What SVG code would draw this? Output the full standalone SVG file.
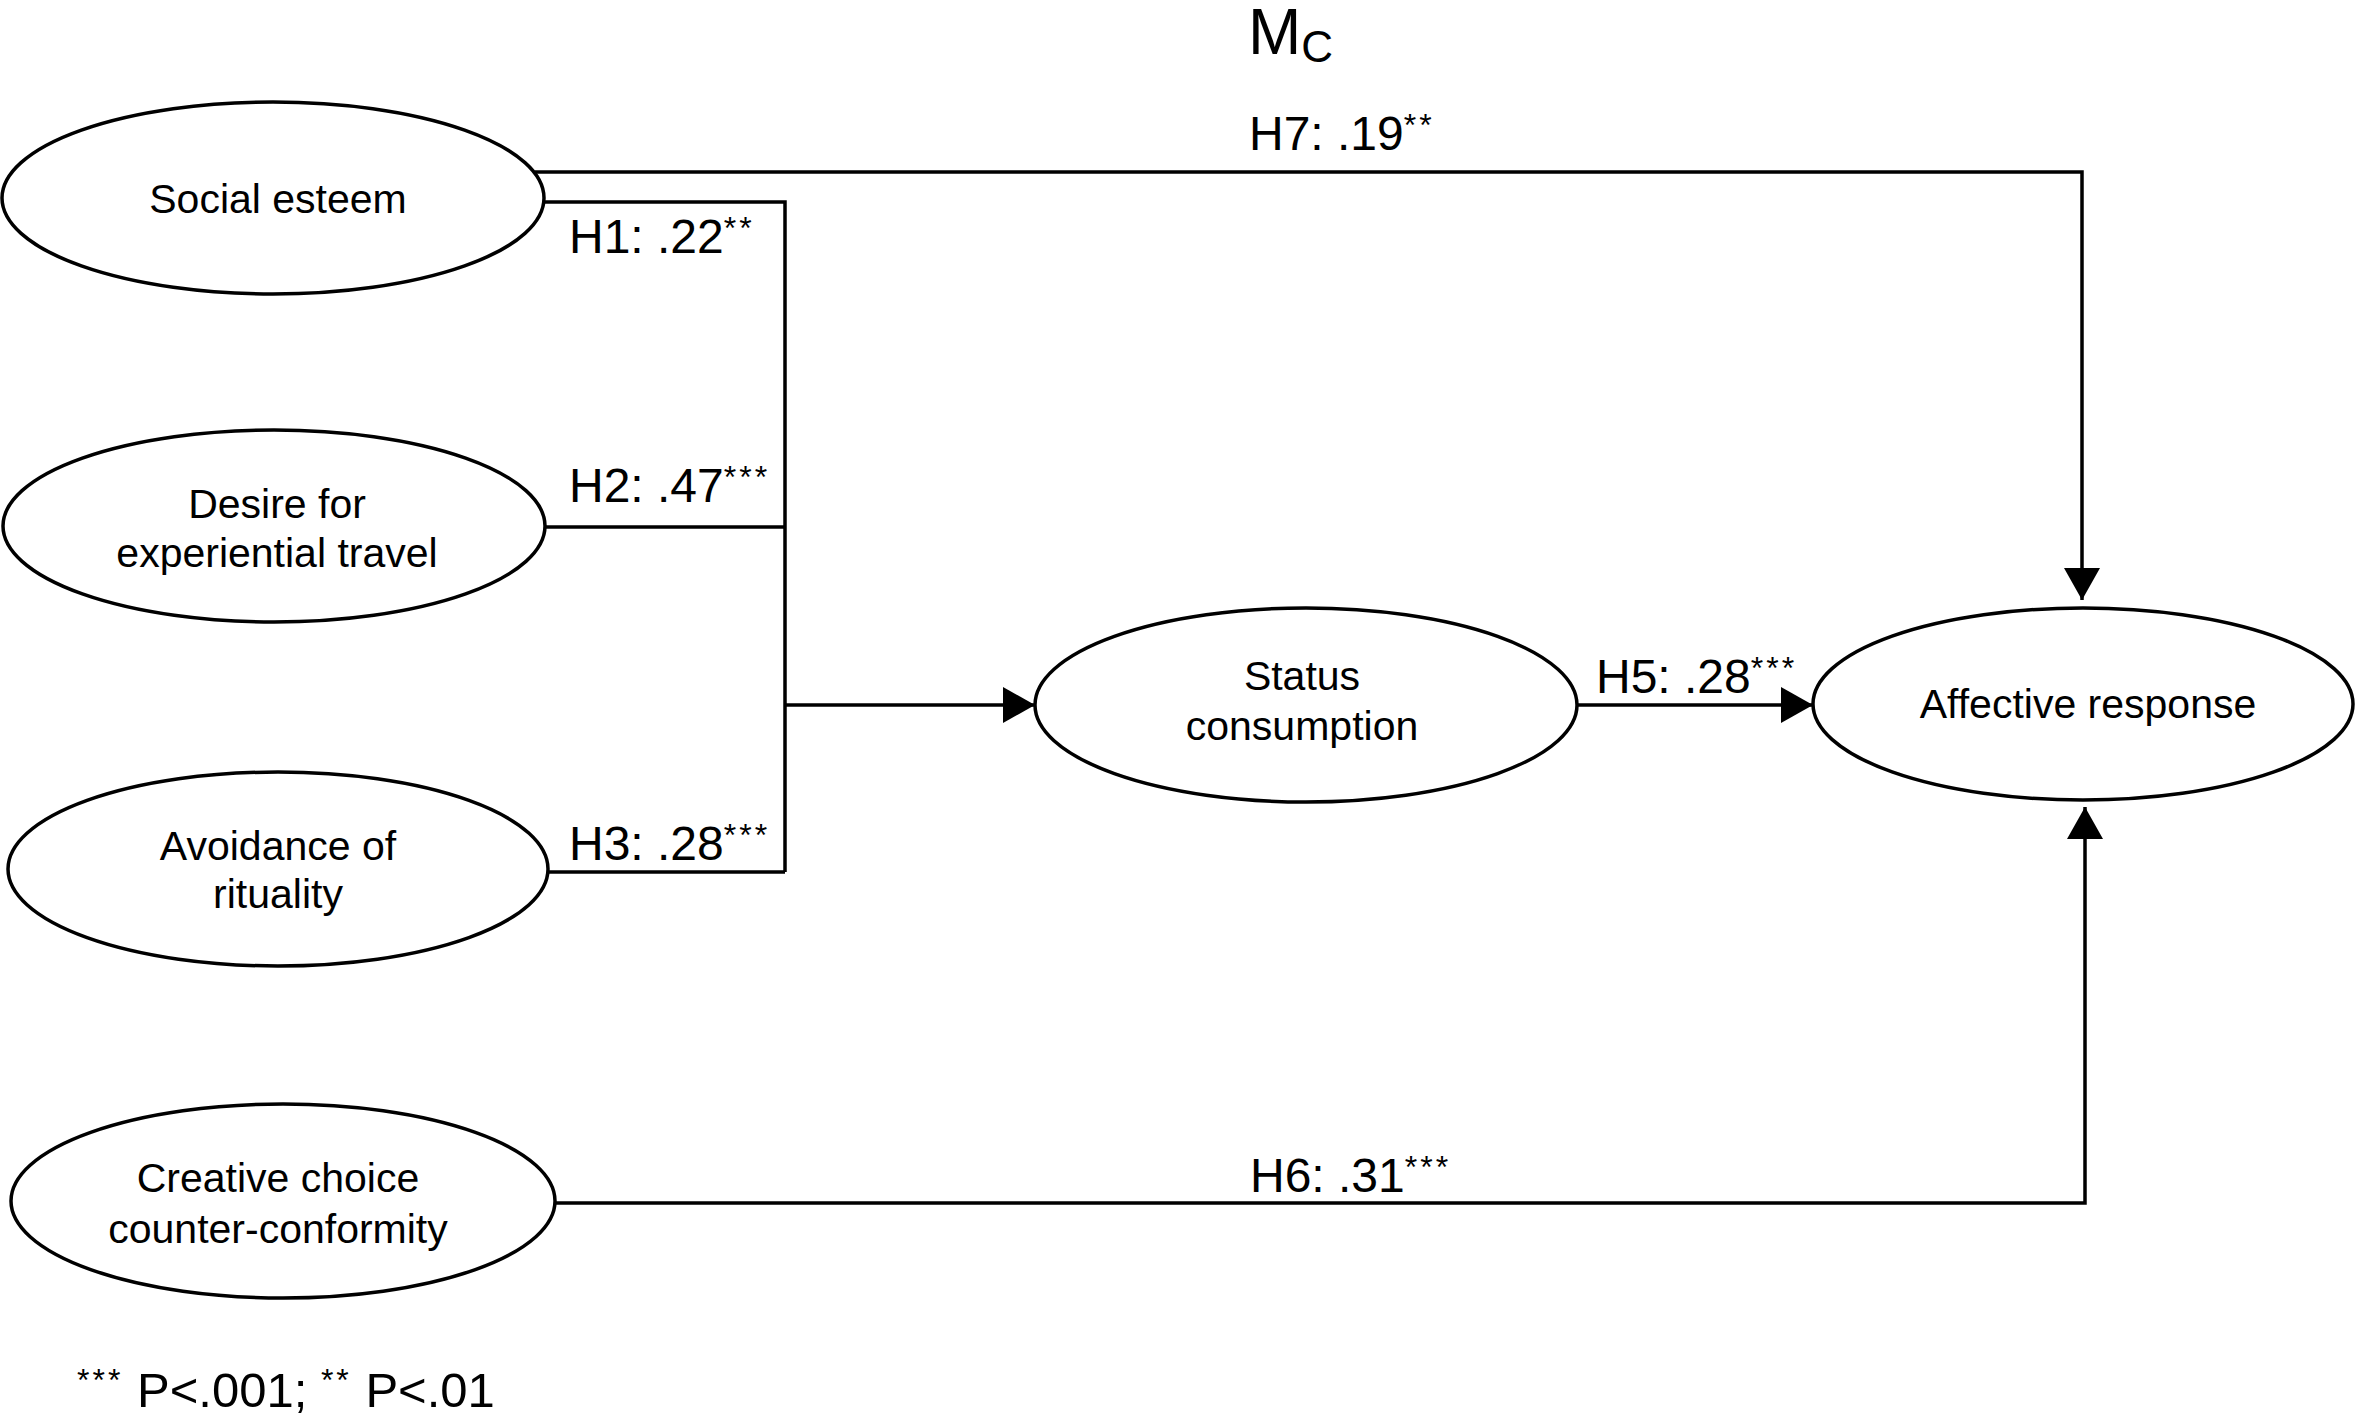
<svg xmlns="http://www.w3.org/2000/svg" width="2358" height="1418" viewBox="0 0 2358 1418">
<defs>
<style>
.node ellipse{fill:#fff;stroke:#000;stroke-width:3.5}
.nt{font-family:"Liberation Sans",Arial,sans-serif;font-size:41px;fill:#000;text-anchor:middle}
.lbl{font-family:"Liberation Sans",Arial,sans-serif;font-size:48px;fill:#000}
.sup{font-size:32px;letter-spacing:3px}
.conn path{fill:none;stroke:#000;stroke-width:3.5}
</style>
<marker id="ah" markerUnits="userSpaceOnUse" markerWidth="34" markerHeight="38" refX="32" refY="18" orient="auto">
<polygon points="0,0 32,18 0,36" fill="#000"/>
</marker>
</defs>
<rect width="2358" height="1418" fill="#fff"/>

<g id="connectors" class="conn">
<path d="M535,172 H2082 V600" marker-end="url(#ah)"/>
<path d="M545,202 H785 V872"/>
<path d="M545,527 H785"/>
<path d="M548,872 H785"/>
<path d="M785,705 H1035" marker-end="url(#ah)"/>
<path d="M1578,705 H1813" marker-end="url(#ah)"/>
<path d="M555,1203 H2085 V807" marker-end="url(#ah)"/>
</g>

<g id="node-social-esteem" class="node">
<ellipse cx="273" cy="198" rx="271" ry="96"/>
<text class="nt" x="278" y="213">Social esteem</text>
</g>
<g id="node-desire" class="node">
<ellipse cx="274" cy="526" rx="271" ry="96"/>
<text class="nt" x="277" y="518">Desire for</text>
<text class="nt" x="277" y="567">experiential travel</text>
</g>
<g id="node-avoidance" class="node">
<ellipse cx="278" cy="869" rx="270" ry="97"/>
<text class="nt" x="278" y="860">Avoidance of</text>
<text class="nt" x="278" y="908">rituality</text>
</g>
<g id="node-creative" class="node">
<ellipse cx="283" cy="1201" rx="272" ry="97"/>
<text class="nt" x="278" y="1192">Creative choice</text>
<text class="nt" x="278" y="1243">counter-conformity</text>
</g>
<g id="node-status" class="node">
<ellipse cx="1306" cy="705" rx="271" ry="97"/>
<text class="nt" x="1302" y="690">Status</text>
<text class="nt" x="1302" y="740">consumption</text>
</g>
<g id="node-affective" class="node">
<ellipse cx="2083" cy="704" rx="270" ry="96"/>
<text class="nt" x="2088" y="718">Affective response</text>
</g>

<g id="labels">
<text class="lbl" x="1248" y="54" style="font-size:64px">M<tspan style="font-size:44px" dy="8">C</tspan></text>
<text class="lbl" x="1249" y="150">H7: .19<tspan class="sup" dy="-14">**</tspan></text>
<text class="lbl" x="569" y="253">H1: .22<tspan class="sup" dy="-14">**</tspan></text>
<text class="lbl" x="569" y="502">H2: .47<tspan class="sup" dy="-14">***</tspan></text>
<text class="lbl" x="569" y="860">H3: .28<tspan class="sup" dy="-14">***</tspan></text>
<text class="lbl" x="1596" y="693">H5: .28<tspan class="sup" dy="-14">***</tspan></text>
<text class="lbl" x="1250" y="1192">H6: .31<tspan class="sup" dy="-14">***</tspan></text>
<text class="lbl" x="77" y="1407" style="font-size:49px"><tspan class="sup" dy="-16">***</tspan><tspan dy="16"> P&lt;.001; </tspan><tspan class="sup" dy="-16">**</tspan><tspan dy="16"> P&lt;.01</tspan></text>
</g>
</svg>
